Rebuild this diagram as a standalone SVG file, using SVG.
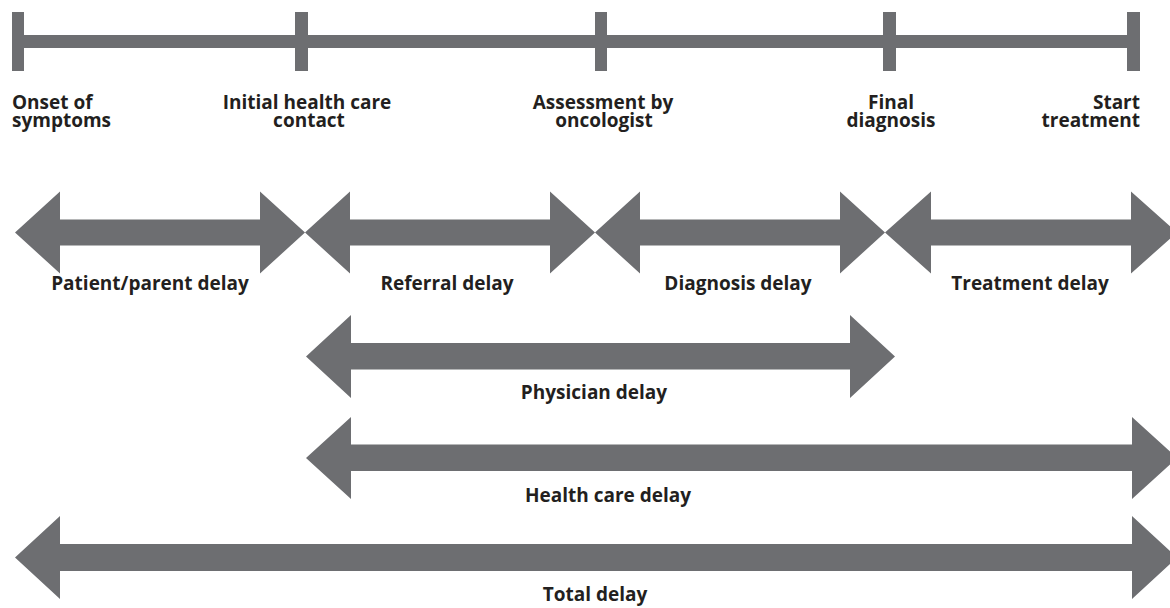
<svg xmlns="http://www.w3.org/2000/svg" width="1170" height="608" viewBox="0 0 1170 608">
<style>
.bar{fill:#6d6e71}
.arr{fill:#6d6e71}
.t{font-family:"Open Sans","Liberation Sans",sans-serif;font-weight:700;font-size:19px;fill:#231f20}
</style>
<rect width="1170" height="608" fill="#ffffff"/>
<g id="timeline">
<rect class="bar" x="12" y="35" width="1128" height="13"/>
<rect class="bar" x="12" y="12" width="12" height="59"/>
<rect class="bar" x="295" y="12" width="13" height="59"/>
<rect class="bar" x="595" y="12" width="12" height="59"/>
<rect class="bar" x="883" y="12" width="13" height="59"/>
<rect class="bar" x="1127" y="12" width="13" height="59"/>
</g>
<g id="milestone-onset"><text class="t" x="12" y="109">Onset of</text><text class="t" x="12" y="127">symptoms</text></g>
<g id="milestone-initial"><text class="t" x="307" y="109" text-anchor="middle">Initial health care</text><text class="t" x="309" y="127" text-anchor="middle">contact</text></g>
<g id="milestone-assessment"><text class="t" x="603" y="109" text-anchor="middle">Assessment by</text><text class="t" x="604" y="127" text-anchor="middle">oncologist</text></g>
<g id="milestone-final"><text class="t" x="891" y="109" text-anchor="middle">Final</text><text class="t" x="891" y="127" text-anchor="middle">diagnosis</text></g>
<g id="milestone-start"><text class="t" x="1140" y="109" text-anchor="end">Start</text><text class="t" x="1140" y="127" text-anchor="end">treatment</text></g>
<g id="connectors">
<polygon class="arr" points="15,232.5 60,191.5 60,219.5 260,219.5 260,191.5 305,232.5 260,273.5 260,245.5 60,245.5 60,273.5"/>
<polygon class="arr" points="305,232.5 350,191.5 350,219.5 550,219.5 550,191.5 595,232.5 550,273.5 550,245.5 350,245.5 350,273.5"/>
<polygon class="arr" points="595,232.5 640,191.5 640,219.5 840,219.5 840,191.5 885,232.5 840,273.5 840,245.5 640,245.5 640,273.5"/>
<polygon class="arr" points="885,232.5 931,191.5 931,219.5 1131,219.5 1131,191.5 1177,232.5 1131,273.5 1131,245.5 931,245.5 931,273.5"/>
<polygon class="arr" points="306,356.5 351,315 351,343 850,343 850,315 895,356.5 850,398 850,369.5 351,369.5 351,398"/>
<polygon class="arr" points="306,458 351,417 351,444.5 1132,444.5 1132,417 1177,458 1132,499 1132,471 351,471 351,499"/>
<polygon class="arr" points="15,557.5 60,516 60,544 1132,544 1132,516 1177,557.5 1132,599 1132,571 60,571 60,599"/>
</g>
<g id="label-patient"><text class="t" x="150" y="290" text-anchor="middle">Patient/parent delay</text></g>
<g id="label-referral"><text class="t" x="447" y="290" text-anchor="middle">Referral delay</text></g>
<g id="label-diagnosis"><text class="t" x="738" y="290" text-anchor="middle">Diagnosis delay</text></g>
<g id="label-treatment"><text class="t" x="1030" y="290" text-anchor="middle">Treatment delay</text></g>
<g id="label-physician"><text class="t" x="594" y="399" text-anchor="middle">Physician delay</text></g>
<g id="label-healthcare"><text class="t" x="608" y="502" text-anchor="middle">Health care delay</text></g>
<g id="label-total"><text class="t" x="595" y="601" text-anchor="middle">Total delay</text></g>
</svg>
